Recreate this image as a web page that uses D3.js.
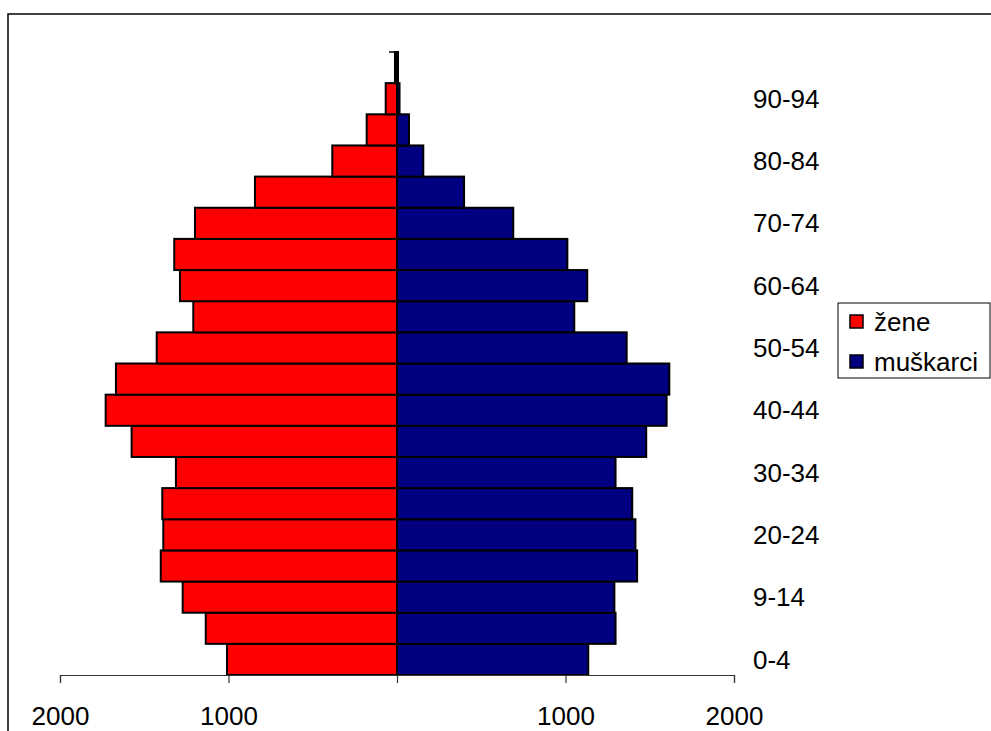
<!DOCTYPE html>
<html>
<head>
<meta charset="utf-8">
<script src="https://cdn.jsdelivr.net/npm/d3@7"></script>
<style>
  html, body { margin: 0; padding: 0; background: #fff; }
  svg { display: block; font-family: "Liberation Sans", Arial, sans-serif; }
</style>
</head>
<body>
<svg id="chart" width="991" height="731"></svg>
<script>
// ---- data ----
const ageGroups = ["0-4","5-9","9-14","15-19","20-24","25-29","30-34","35-39","40-44","45-49",
                   "50-54","55-59","60-64","65-69","70-74","75-79","80-84","85-89","90-94","95+"];
const zene     = [1009,1135,1272,1402,1387,1393,1312,1575,1729,1668,1426,1209,1288,1322,1199,843,384,180,67,12];
const muskarci = [1135,1297,1290,1425,1415,1396,1297,1479,1600,1616,1363,1052,1129,1011,690,398,156,71,15,6];
const xTickValues = [-2000,-1000,0,1000,2000];
const seriesNames = ["žene","muškarci"];
const seriesColors = ["#FF0000","#000080"];

const svg = d3.select("#chart");

// outer chart border (extends beyond window on right/bottom)
svg.append("rect").attr("x",8).attr("y",14).attr("width",1100).attr("height",900)
  .attr("fill","#fff").attr("stroke","#000").attr("stroke-width",1.5);

const x = d3.scaleLinear().domain([-2000,2000]).range([60,734]);
const y = d3.scaleBand().domain(ageGroups).range([675,52]).paddingInner(0).paddingOuter(0);

// category axis at 0 (mostly hidden by bars)
const yAxisG = svg.append("g").attr("transform",`translate(${x(0)},0)`);
yAxisG.append("line").attr("x1",0).attr("x2",0).attr("y1",y.range()[1]).attr("y2",y.range()[0])
  .attr("stroke","#000").attr("stroke-width",1.5);
const bounds = ageGroups.map(a => y(a)).concat([y.range()[0]]);
yAxisG.selectAll("line.tk").data(bounds).join("line").attr("class","tk")
  .attr("x1",-8).attr("x2",0).attr("y1",d=>d).attr("y2",d=>d)
  .attr("stroke","#000").attr("stroke-width",1.5);

// bars
const rows = ageGroups.map((a,i)=>({age:a, f:zene[i], m:muskarci[i]}));
svg.append("g").selectAll("rect").data(rows).join("rect")
  .attr("x", d => x(-d.f)).attr("width", d => x(0) - x(-d.f))
  .attr("y", d => y(d.age)).attr("height", y.bandwidth())
  .attr("fill", seriesColors[0]).attr("stroke","#000").attr("stroke-width",2);
svg.append("g").selectAll("rect").data(rows).join("rect")
  .attr("x", x(0)).attr("width", d => x(d.m) - x(0))
  .attr("y", d => y(d.age)).attr("height", y.bandwidth())
  .attr("fill", seriesColors[1]).attr("stroke","#000").attr("stroke-width",2);

// category labels (every other), on the right
svg.append("g").selectAll("text").data(ageGroups.filter((a,i)=>i%2===0)).join("text")
  .attr("x",753).attr("y", d => y(d) + y.bandwidth()/2)
  .attr("dy","0.35em").attr("font-size",26).attr("fill","#000")
  .text(d=>d);

// x axis
const xAxis = d3.axisBottom(x).tickValues(xTickValues).tickSize(8).tickPadding(24)
  .tickFormat(d => d === 0 ? "" : d3.format("d")(Math.abs(d)));
const xg = svg.append("g").attr("transform",`translate(0,675)`).call(xAxis);
xg.select(".domain").attr("stroke","#333").attr("stroke-width",1.2);
xg.selectAll(".tick line").attr("stroke","#333").attr("stroke-width",1.2);
xg.selectAll(".tick text").attr("font-size",26).attr("font-family","Liberation Sans, Arial, sans-serif").attr("fill","#000");

// legend
const lg = svg.append("g");
lg.append("rect").attr("x",838).attr("y",303).attr("width",152).attr("height",75)
  .attr("fill","#fff").attr("stroke","#000").attr("stroke-width",1);
seriesNames.forEach((n,i)=>{
  const cy = 322 + i*40;
  lg.append("rect").attr("x",850).attr("y",cy-7).attr("width",13).attr("height",13)
    .attr("fill",seriesColors[i]).attr("stroke","#000").attr("stroke-width",1.5);
  lg.append("text").attr("x",874).attr("y",cy).attr("dy","0.35em")
    .attr("font-size",26).attr("fill","#000").text(n);
});
</script>
</body>
</html>
